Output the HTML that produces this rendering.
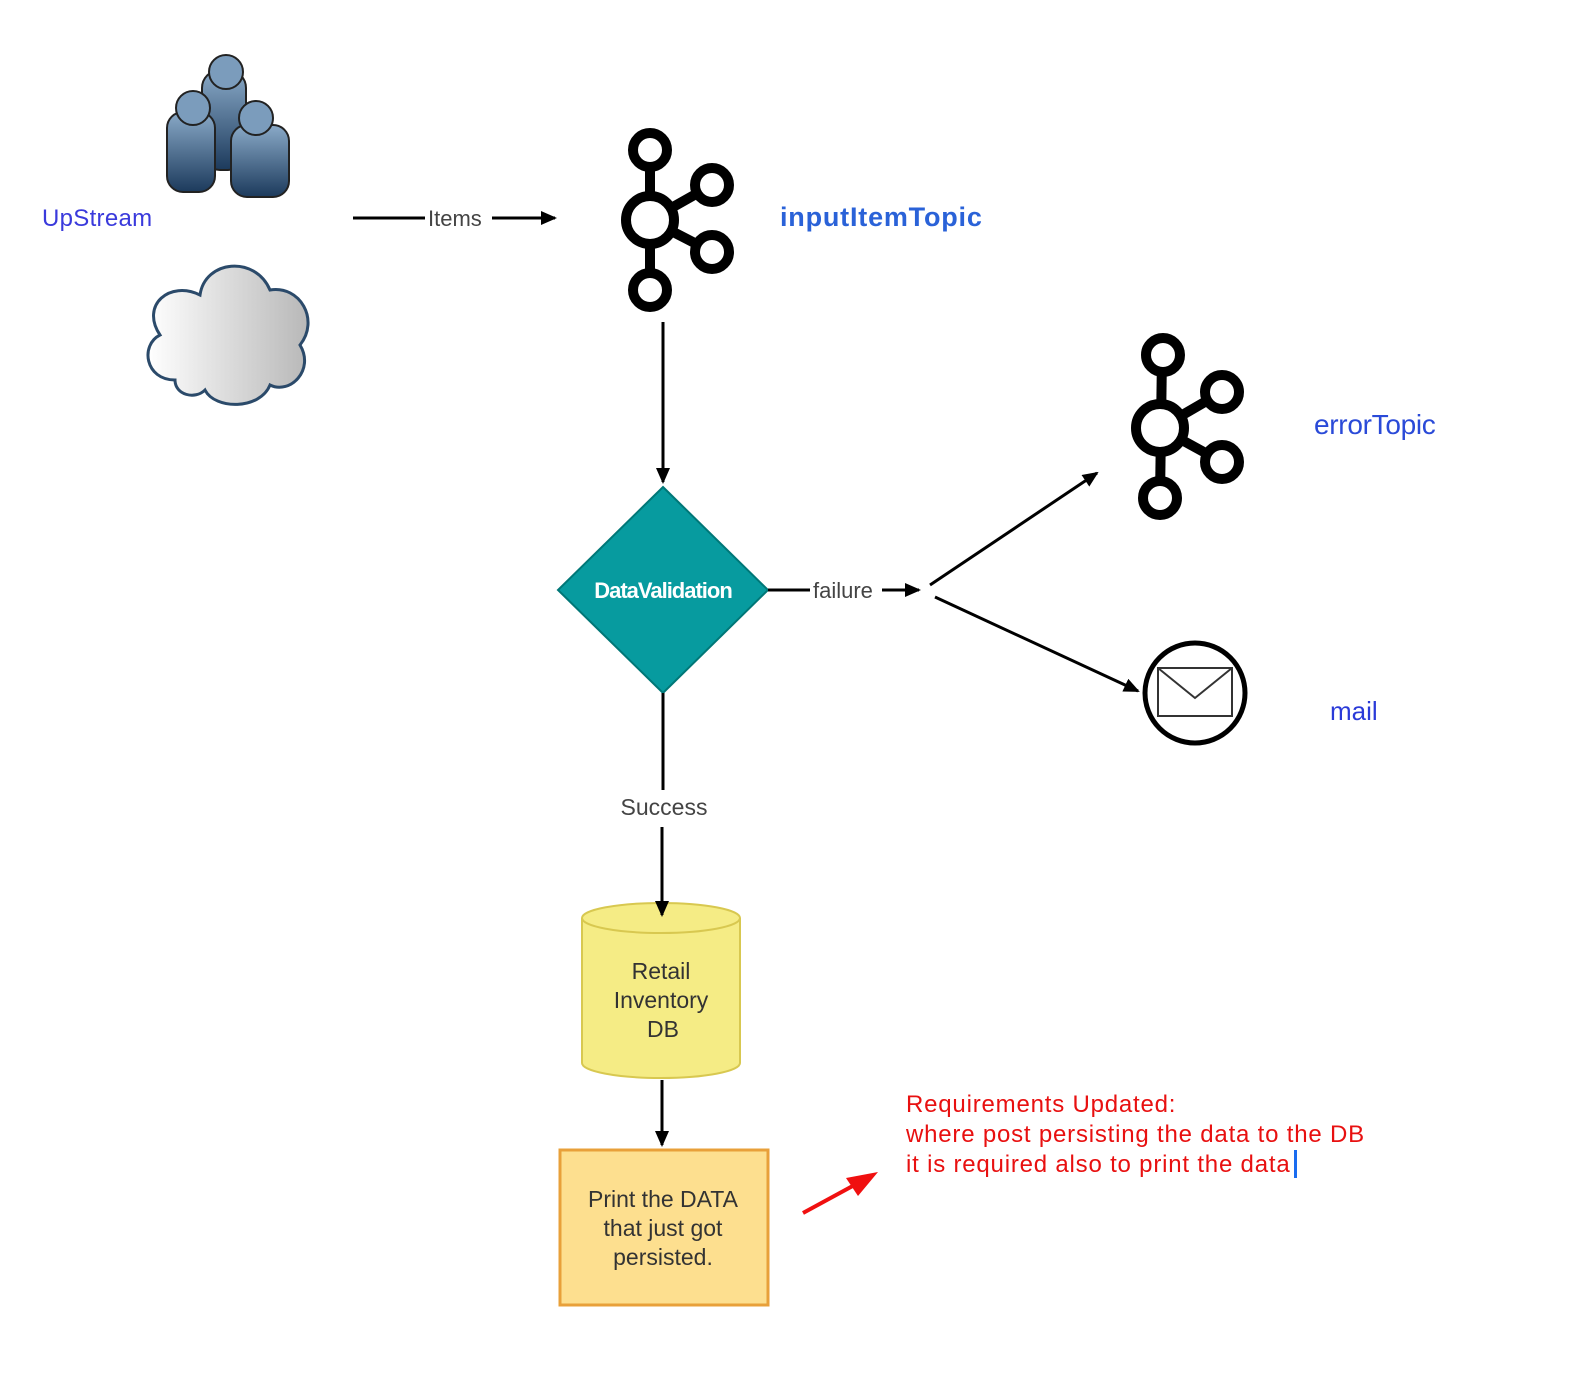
<!DOCTYPE html>
<html><head><meta charset="utf-8"><style>
html,body{margin:0;padding:0;background:#fff;}
svg{display:block;font-family:"Liberation Sans",sans-serif;}
</style></head><body>
<svg width="1575" height="1384" viewBox="0 0 1575 1384" xmlns="http://www.w3.org/2000/svg">
<defs>
<linearGradient id="pg" x1="0" y1="0" x2="0" y2="1"><stop offset="0" stop-color="#8aaac8"/><stop offset="1" stop-color="#1c3a5c"/></linearGradient>
<linearGradient id="cg" x1="0" y1="0" x2="1" y2="0"><stop offset="0" stop-color="#fff"/><stop offset="1" stop-color="#b8b8b8"/></linearGradient>
<marker id="ah" markerWidth="16" markerHeight="16" refX="14" refY="7" orient="auto" markerUnits="userSpaceOnUse"><path d="M0,0 L16,7 L0,14 Z" fill="#000"/></marker>
</defs>
<!-- people -->
<g>
<rect x="202" y="70" width="44" height="100" rx="18" fill="url(#pg)" stroke="#222" stroke-width="2"/>
<circle cx="226" cy="72" r="17" fill="#7b9cbc" stroke="#222" stroke-width="2"/>
<rect x="167" y="112" width="48" height="80" rx="16" fill="url(#pg)" stroke="#222" stroke-width="2"/>
<circle cx="193" cy="108" r="17" fill="#7b9cbc" stroke="#222" stroke-width="2"/>
<rect x="231" y="125" width="58" height="72" rx="16" fill="url(#pg)" stroke="#222" stroke-width="2"/>
<circle cx="256" cy="118" r="17" fill="#7b9cbc" stroke="#222" stroke-width="2"/>
</g>
<!-- cloud -->
<path d="M175,380 C145,380 140,345 160,335 C140,305 170,280 200,295 C205,260 255,255 270,290 C300,285 320,320 300,345 C315,370 290,395 270,385 C260,410 215,410 205,390 C195,400 175,395 175,380 Z" fill="url(#cg)" stroke="#2b4a6a" stroke-width="3"/>
<text x="42" y="226" font-size="24" fill="#3a3adc" letter-spacing="0.3">UpStream</text>
<!-- items arrow -->
<line x1="353" y1="218" x2="425" y2="218" stroke="#000" stroke-width="3"/>
<text x="428" y="226" font-size="22" fill="#444">Items</text>
<line x1="492" y1="218" x2="555" y2="218" stroke="#000" stroke-width="3" marker-end="url(#ah)"/>
<!-- kafka 1 -->
<g fill="none" stroke="#000" stroke-width="10">
<line x1="650" y1="150" x2="650" y2="290"/><line x1="650" y1="220" x2="712" y2="185"/><line x1="650" y1="220" x2="712" y2="252"/>
<circle cx="650" cy="220" r="24" fill="#fff"/><circle cx="650" cy="150" r="17" fill="#fff"/><circle cx="650" cy="290" r="17" fill="#fff"/><circle cx="712" cy="185" r="17" fill="#fff"/><circle cx="712" cy="252" r="17" fill="#fff"/>
</g>
<text x="780" y="226" font-size="27" font-weight="bold" fill="#2a62d8" letter-spacing="0.8">inputItemTopic</text>
<line x1="663" y1="322" x2="663" y2="482" stroke="#000" stroke-width="3" marker-end="url(#ah)"/>
<!-- diamond -->
<polygon points="663,487 768,590 663,693 558,590" fill="#079b9f" stroke="#077" stroke-width="2"/>
<text x="663" y="598" font-size="22" font-weight="bold" fill="#fff" text-anchor="middle" letter-spacing="-1">DataValidation</text>
<line x1="768" y1="590" x2="810" y2="590" stroke="#000" stroke-width="3"/>
<text x="813" y="598" font-size="22" fill="#444">failure</text>
<line x1="882" y1="590" x2="919" y2="590" stroke="#000" stroke-width="3" marker-end="url(#ah)"/>
<line x1="930" y1="585" x2="1097" y2="473" stroke="#000" stroke-width="3" marker-end="url(#ah)"/>
<line x1="935" y1="597" x2="1138" y2="691" stroke="#000" stroke-width="3" marker-end="url(#ah)"/>
<!-- kafka 2 -->
<g fill="none" stroke="#000" stroke-width="10">
<line x1="1162" y1="355" x2="1160" y2="498"/><line x1="1160" y1="428" x2="1222" y2="392"/><line x1="1160" y1="428" x2="1222" y2="462"/>
<circle cx="1160" cy="428" r="24" fill="#fff"/><circle cx="1163" cy="355" r="17" fill="#fff"/><circle cx="1160" cy="498" r="17" fill="#fff"/><circle cx="1222" cy="392" r="17" fill="#fff"/><circle cx="1222" cy="462" r="17" fill="#fff"/>
</g>
<text x="1314" y="434" font-size="28" fill="#2a4ad8" letter-spacing="-0.3">errorTopic</text>
<!-- mail -->
<circle cx="1195" cy="693" r="50" fill="#fff" stroke="#000" stroke-width="5"/>
<rect x="1158" y="668" width="74" height="48" fill="#fff" stroke="#333" stroke-width="2"/>
<polyline points="1158,668 1195,698 1232,668" fill="none" stroke="#333" stroke-width="2"/>
<text x="1330" y="720" font-size="26" fill="#2a3ad8">mail</text>
<!-- success -->
<line x1="663" y1="693" x2="663" y2="790" stroke="#000" stroke-width="3"/>
<text x="664" y="815" font-size="23" fill="#444" text-anchor="middle">Success</text>
<!-- cylinder -->
<path d="M582,918 L582,1063 A79,15 0 0 0 740,1063 L740,918" fill="#f5ec85" stroke="#d8c850" stroke-width="2"/>
<ellipse cx="661" cy="918" rx="79" ry="15" fill="#f5ec85" stroke="#d8c850" stroke-width="2"/>
<line x1="662" y1="827" x2="662" y2="915" stroke="#000" stroke-width="3" marker-end="url(#ah)"/>
<g font-size="23" fill="#333" text-anchor="middle"><text x="661" y="979">Retail</text><text x="661" y="1008">Inventory</text><text x="663" y="1037">DB</text></g>
<line x1="662" y1="1080" x2="662" y2="1145" stroke="#000" stroke-width="3" marker-end="url(#ah)"/>
<rect x="560" y="1150" width="208" height="155" fill="#fddf8f" stroke="#e8a03a" stroke-width="3"/>
<g font-size="23" fill="#333" text-anchor="middle"><text x="663" y="1207">Print the DATA</text><text x="663" y="1236">that just got</text><text x="663" y="1265">persisted.</text></g>
<!-- red arrow -->
<line x1="803" y1="1213" x2="860" y2="1182" stroke="#f01010" stroke-width="4"/>
<polygon points="878,1172 846,1178 858,1196" fill="#f01010"/>
<g font-size="24" fill="#e81010" letter-spacing="0.8"><text x="906" y="1112">Requirements Updated:</text><text x="906" y="1142">where post persisting the data to the DB</text><text x="906" y="1172">it is required also to print the data</text></g>
<rect x="1294" y="1150" width="3" height="28" fill="#1a6cf0"/>
</svg>
</body></html>
